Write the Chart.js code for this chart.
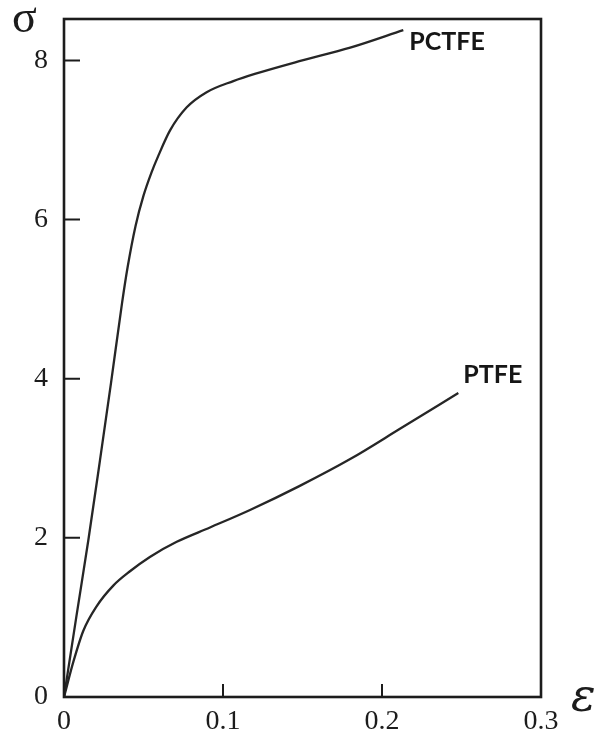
<!DOCTYPE html>
<html>
<head>
<meta charset="utf-8">
<title>Stress–strain curves: PCTFE and PTFE</title>
<script src="https://cdn.jsdelivr.net/npm/chart.js@4/dist/chart.umd.min.js"></script>
<style>
  html, body { margin: 0; padding: 0; background: #fff; }
  #wrap { position: relative; width: 597px; height: 745px; }
  canvas { display: block; }
</style>
</head>
<body>
<div id="wrap"><canvas id="chart" width="597" height="745"></canvas></div>
<script>
// Strain (ε) and stress (σ) samples for each polymer
const pctfeStrain = [0, 0.0077, 0.0153, 0.0226, 0.0296, 0.0365, 0.040, 0.045, 0.050, 0.055, 0.0593, 0.0667, 0.0772, 0.0897, 0.1065, 0.12, 0.148, 0.18, 0.2134];
const pctfeStress = [0, 1.0, 1.97, 2.97, 3.95, 4.95, 5.40, 5.92, 6.30, 6.59, 6.80, 7.12, 7.41, 7.60, 7.74, 7.83, 7.99, 8.16, 8.38];

const ptfeStrain = [0, 0.006, 0.0121, 0.0205, 0.031, 0.0415, 0.054, 0.0709, 0.0918, 0.117, 0.148, 0.180, 0.2113, 0.248];
const ptfeStress = [0, 0.45, 0.83, 1.14, 1.40, 1.58, 1.76, 1.95, 2.13, 2.35, 2.65, 2.99, 3.37, 3.82];

const seriesNames = ['PCTFE', 'PTFE'];
const xTickValues = [0, 0.1, 0.2, 0.3];
const xTickLabels = ['0', '0.1', '0.2', '0.3'];
const yTickValues = [0, 2, 4, 6, 8];
const yTickLabels = ['0', '2', '4', '6', '8'];

const toPoints = (xs, ys) => xs.map((x, i) => ({ x: x, y: ys[i] }));

const INK = '#1c1c1c';
const serif = '"Liberation Serif", "DejaVu Serif", serif';

// Frame around the plot area, inward tick marks, axis symbols and curve labels
const decorations = {
  id: 'decorations',
  afterDraw(chart) {
    const { ctx, chartArea: a, scales } = chart;
    const xs = scales.x, ys = scales.y;
    ctx.save();
    ctx.strokeStyle = INK;
    ctx.lineWidth = 2.6;
    ctx.strokeRect(a.left, a.top, a.right - a.left, a.bottom - a.top);

    ctx.lineWidth = 2;
    ctx.beginPath();
    yTickValues.forEach(v => {
      if (v === 0) return;
      const py = ys.getPixelForValue(v);
      ctx.moveTo(a.left, py);
      ctx.lineTo(a.left + 16, py);
    });
    xTickValues.forEach(v => {
      if (v === 0 || v === 0.3) return;
      const px = xs.getPixelForValue(v);
      ctx.moveTo(px, a.bottom);
      ctx.lineTo(px, a.bottom - 13);
    });
    ctx.stroke();

    // axis symbols
    ctx.fillStyle = INK;
    ctx.textAlign = 'left';
    ctx.textBaseline = 'alphabetic';
    ctx.font = '46px ' + serif;
    ctx.fillText('σ', 12, 32);
    ctx.font = 'italic 46px "DejaVu Serif", serif';
    ctx.fillText('ε', 571, 711);

    // curve labels placed next to the last point of each series
    ctx.font = 'bold 25px Lato, "Liberation Sans", sans-serif';
    ctx.textBaseline = 'middle';
    ctx.fillStyle = '#161616';
    const lastA = pctfeStrain.length - 1;
    ctx.fillText(seriesNames[0],
      xs.getPixelForValue(pctfeStrain[lastA]) + 6,
      ys.getPixelForValue(pctfeStress[lastA]) + 12);
    const lastB = ptfeStrain.length - 1;
    ctx.fillText(seriesNames[1],
      xs.getPixelForValue(ptfeStrain[lastB]) + 5,
      ys.getPixelForValue(ptfeStress[lastB]) - 18);
    ctx.restore();
  }
};

const curveStyle = {
  showLine: true,
  borderColor: '#262626',
  borderWidth: 2.3,
  pointRadius: 0,
  cubicInterpolationMode: 'monotone',
  fill: false
};

new Chart(document.getElementById('chart'), {
  type: 'scatter',
  data: {
    datasets: [
      Object.assign({ label: seriesNames[0], data: toPoints(pctfeStrain, pctfeStress) }, curveStyle),
      Object.assign({ label: seriesNames[1], data: toPoints(ptfeStrain, ptfeStress) }, curveStyle)
    ]
  },
  options: {
    responsive: false,
    animation: false,
    devicePixelRatio: 1,
    layout: { padding: { top: 19, right: 56, left: 0, bottom: 0 } },
    plugins: {
      legend: { display: false },
      tooltip: { enabled: false }
    },
    scales: {
      x: {
        type: 'linear',
        min: 0,
        max: 0.3,
        grid: { display: false, drawTicks: false },
        border: { display: false },
        afterBuildTicks: s => { s.ticks = xTickValues.map(v => ({ value: v })); },
        afterFit: s => { s.height = 48; s.paddingLeft = 0; s.paddingRight = 0; },
        ticks: {
          padding: 8,
          color: INK,
          font: { family: serif, size: 28 },
          maxRotation: 0,
          callback: (v) => xTickLabels[xTickValues.indexOf(v)] ?? ''
        }
      },
      y: {
        type: 'linear',
        min: 0,
        max: 8.52,
        grid: { display: false, drawTicks: false },
        border: { display: false },
        afterBuildTicks: s => { s.ticks = yTickValues.map(v => ({ value: v })); },
        afterFit: s => { s.width = 64; s.paddingTop = 0; s.paddingBottom = 0; },
        ticks: {
          padding: 16,
          color: INK,
          font: { family: serif, size: 28 },
          callback: (v) => yTickLabels[yTickValues.indexOf(v)] ?? ''
        }
      }
    }
  },
  plugins: [decorations]
});
</script>
</body>
</html>
